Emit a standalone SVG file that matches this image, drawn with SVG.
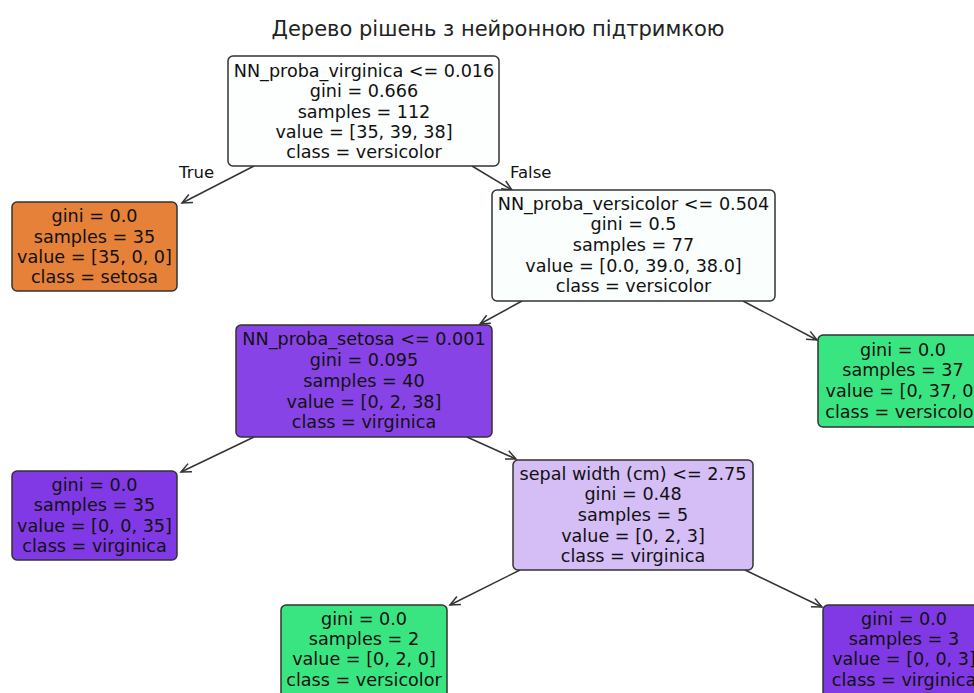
<svg xmlns="http://www.w3.org/2000/svg" width="974" height="693" viewBox="0 0 974 693">
<style>
text{font-family:"DejaVu Sans","Liberation Sans",sans-serif;font-size:17.6px;fill:#111;text-anchor:middle}
.title{font-size:21px;fill:#222}
.box{stroke:#333;stroke-width:1.5}
.edge{stroke:#333;stroke-width:1.5;fill:none;marker-end:url(#arr)}
.lbl{text-anchor:start;font-size:16.5px}
</style>
<defs>
<marker id="arr" markerUnits="userSpaceOnUse" markerWidth="14" markerHeight="12" viewBox="-12 -6 14 12" refX="0" refY="0" orient="auto">
<path d="M-10,-4.5 L0,0 L-10,4.5" fill="none" stroke="#333" stroke-width="1.5"/>
</marker>
</defs>
<rect width="974" height="693" fill="#fff"/>
<text class="title" x="498" y="36">Дерево рішень з нейронною підтримкою</text>
<g id="edges">
<line class="edge" x1="254" y1="166" x2="182" y2="203"/>
<line class="edge" x1="472" y1="166" x2="512" y2="190"/>
<line class="edge" x1="522" y1="301" x2="480" y2="324"/>
<line class="edge" x1="743" y1="301" x2="817" y2="340"/>
<line class="edge" x1="254" y1="437" x2="181" y2="472"/>
<line class="edge" x1="467" y1="437" x2="516" y2="459"/>
<line class="edge" x1="520" y1="570" x2="450" y2="605"/>
<line class="edge" x1="745" y1="570" x2="822" y2="607"/>
<text class="lbl" x="179" y="178">True</text>
<text class="lbl" x="510" y="178">False</text>
</g>
<g id="n0">
<rect class="box" x="228" y="56" width="271" height="110" rx="5" fill="#fcfffd"/>
<text x="364" y="77">NN_proba_virginica &lt;= 0.016</text>
<text x="364" y="97">gini = 0.666</text>
<text x="364" y="118">samples = 112</text>
<text x="364" y="138">value = [35, 39, 38]</text>
<text x="364" y="158">class = versicolor</text>
</g>
<g id="n1">
<rect class="box" x="12" y="202" width="165" height="89" rx="5" fill="#e58139"/>
<text x="94.5" y="222">gini = 0.0</text>
<text x="94.5" y="243">samples = 35</text>
<text x="94.5" y="263">value = [35, 0, 0]</text>
<text x="94.5" y="283">class = setosa</text>
</g>
<g id="n2">
<rect class="box" x="492" y="190" width="283" height="111" rx="5" fill="#fafefc"/>
<text x="633.5" y="210">NN_proba_versicolor &lt;= 0.504</text>
<text x="633.5" y="230">gini = 0.5</text>
<text x="633.5" y="251">samples = 77</text>
<text x="633.5" y="272">value = [0.0, 39.0, 38.0]</text>
<text x="633.5" y="292">class = versicolor</text>
</g>
<g id="n3">
<rect class="box" x="236" y="325" width="256" height="112" rx="5" fill="#8843e6"/>
<text x="364" y="345">NN_proba_setosa &lt;= 0.001</text>
<text x="364" y="366">gini = 0.095</text>
<text x="364" y="387">samples = 40</text>
<text x="364" y="408">value = [0, 2, 38]</text>
<text x="364" y="428">class = virginica</text>
</g>
<g id="n4">
<rect class="box" x="818" y="335" width="170" height="92" rx="5" fill="#39e581"/>
<text x="903" y="356">gini = 0.0</text>
<text x="903" y="376">samples = 37</text>
<text x="903" y="397">value = [0, 37, 0]</text>
<text x="903" y="418">class = versicolor</text>
</g>
<g id="n5">
<rect class="box" x="12" y="471" width="165" height="89" rx="5" fill="#8139e5"/>
<text x="94.5" y="491">gini = 0.0</text>
<text x="94.5" y="511">samples = 35</text>
<text x="94.5" y="532">value = [0, 0, 35]</text>
<text x="94.5" y="552">class = virginica</text>
</g>
<g id="n6">
<rect class="box" x="513" y="460" width="240" height="110" rx="5" fill="#d5bdf6"/>
<text x="633" y="480">sepal width (cm) &lt;= 2.75</text>
<text x="633" y="500">gini = 0.48</text>
<text x="633" y="521">samples = 5</text>
<text x="633" y="542">value = [0, 2, 3]</text>
<text x="633" y="562">class = virginica</text>
</g>
<g id="n7">
<rect class="box" x="281" y="605" width="166" height="100" rx="5" fill="#39e581"/>
<text x="364" y="625">gini = 0.0</text>
<text x="364" y="645">samples = 2</text>
<text x="364" y="665">value = [0, 2, 0]</text>
<text x="364" y="686">class = versicolor</text>
</g>
<g id="n8">
<rect class="box" x="823" y="605" width="170" height="100" rx="5" fill="#8139e5"/>
<text x="904" y="625">gini = 0.0</text>
<text x="904" y="645">samples = 3</text>
<text x="904" y="665">value = [0, 0, 3]</text>
<text x="904" y="686">class = virginica</text>
</g>
</svg>
